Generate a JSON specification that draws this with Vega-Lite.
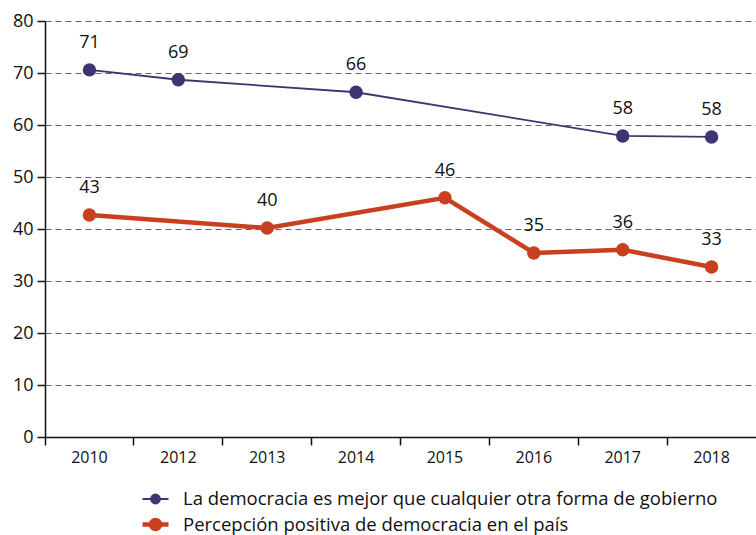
{
  "$schema": "https://vega.github.io/schema/vega-lite/v6.json",
  "width": 711,
  "height": 416,
  "autosize": {"type": "none"},
  "padding": {"left": 45, "top": 21, "right": 0, "bottom": 98},
  "config": {
    "font": "Open Sans",
    "view": {"stroke": null},
    "axis": {"labelFont": "Open Sans", "labelColor": "#111", "domainColor": "#111", "tickColor": "#111", "domainWidth": 1.5, "tickWidth": 1.5}
  },
  "data": {
    "values": [
      {"year": "2010", "series": "La democracia es mejor que cualquier otra forma de gobierno", "value": 70.6, "label": "71"},
      {"year": "2012", "series": "La democracia es mejor que cualquier otra forma de gobierno", "value": 68.7, "label": "69"},
      {"year": "2014", "series": "La democracia es mejor que cualquier otra forma de gobierno", "value": 66.3, "label": "66"},
      {"year": "2017", "series": "La democracia es mejor que cualquier otra forma de gobierno", "value": 57.9, "label": "58"},
      {"year": "2018", "series": "La democracia es mejor que cualquier otra forma de gobierno", "value": 57.7, "label": "58"},
      {"year": "2010", "series": "Percepción positiva de democracia en el país", "value": 42.7, "label": "43"},
      {"year": "2013", "series": "Percepción positiva de democracia en el país", "value": 40.2, "label": "40"},
      {"year": "2015", "series": "Percepción positiva de democracia en el país", "value": 46.0, "label": "46"},
      {"year": "2016", "series": "Percepción positiva de democracia en el país", "value": 35.4, "label": "35"},
      {"year": "2017", "series": "Percepción positiva de democracia en el país", "value": 36.0, "label": "36"},
      {"year": "2018", "series": "Percepción positiva de democracia en el país", "value": 32.7, "label": "33"}
    ]
  },
  "encoding": {
    "x": {
      "field": "year", "type": "ordinal",
      "scale": {"type": "band", "domain": ["2010", "2012", "2013", "2014", "2015", "2016", "2017", "2018"], "paddingInner": 0, "paddingOuter": 0},
      "axis": {"title": null, "labelAngle": 0, "labelFontSize": 16, "tickSize": 8, "labelPadding": 4, "bandPosition": 0, "grid": false, "domainColor": "#111", "tickColor": "#111", "domainWidth": 1.5, "tickWidth": 1.5, "tickExtra": false}
    },
    "y": {
      "field": "value", "type": "quantitative",
      "scale": {"domain": [0, 80]},
      "axis": {"title": null, "values": [0, 10, 20, 30, 40, 50, 60, 70, 80], "labelFontSize": 18, "tickSize": 8, "labelPadding": 4, "grid": true, "gridColor": "#666", "gridDash": [6, 4], "gridWidth": 1.2, "domainColor": "#111", "tickColor": "#111"}
    },
    "color": {
      "field": "series", "type": "nominal",
      "scale": {"domain": ["La democracia es mejor que cualquier otra forma de gobierno", "Percepción positiva de democracia en el país"], "range": ["#3c3572", "#c8401f"]},
      "legend": {
        "title": null, "orient": "none", "legendX": 95, "legendY": 464, "direction": "vertical",
        "labelFontSize": 18.5, "labelColor": "#111", "labelLimit": 700, "labelOffset": 12,
        "symbolType": "M-1,0 L1,0 M-0.35,0 A0.35,0.35 0 1,1 0.35,0 A0.35,0.35 0 1,1 -0.35,0 Z",
        "symbolSize": 676, "symbolStrokeWidth": 2, "rowPadding": -2,
        "encode": {"symbols": {"update": {"strokeWidth": {"signal": "indexof(datum.value, 'Percep') === 0 ? 5 : 2"}}}}
      }
    }
  },
  "layer": [
    {
      "mark": {"type": "line"},
      "encoding": {
        "strokeWidth": {"field": "series", "type": "nominal", "scale": {"domain": ["La democracia es mejor que cualquier otra forma de gobierno", "Percepción positiva de democracia en el país"], "range": [1.8, 4.5]}, "legend": null}
      }
    },
    {
      "mark": {"type": "point", "filled": true, "size": 180, "opacity": 1}
    },
    {
      "mark": {"type": "text", "dy": -27, "fontSize": 18, "color": "#111"},
      "encoding": {"text": {"field": "label"}, "color": {"value": "#111"}}
    }
  ]
}
